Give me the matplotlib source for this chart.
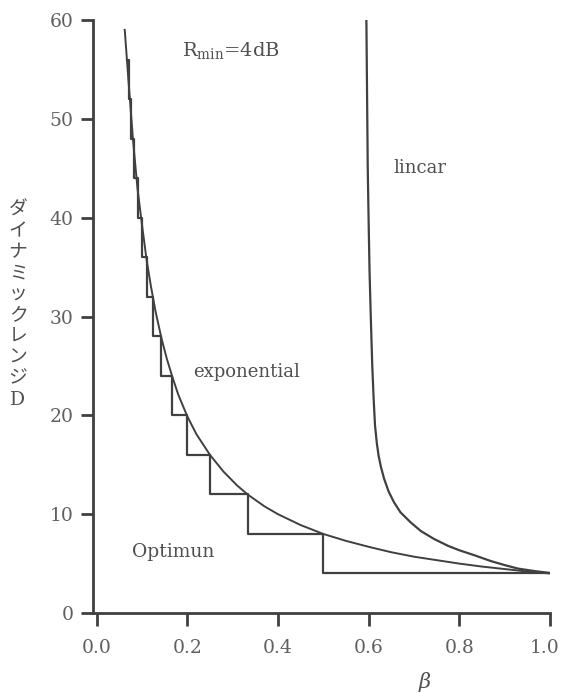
import matplotlib.pyplot as plt
import matplotlib.transforms as mtransforms

# exponential curve
exp_beta = [0.062, 0.07, 0.08, 0.09, 0.1, 0.11, 0.12, 0.13, 0.143, 0.155, 0.167,
            0.18, 0.2, 0.22, 0.25, 0.28, 0.31, 0.333, 0.37, 0.4, 0.45, 0.5,
            0.55, 0.6, 0.65, 0.7, 0.75, 0.8, 0.85, 0.9, 0.95, 1.0]
exp_D = [59, 54, 48, 43, 39.3, 35.8, 33, 30.5, 27.8, 25.7, 23.9,
         22.1, 19.9, 18.1, 16, 14.3, 12.9, 12, 10.8, 10, 8.9, 8,
         7.3, 6.7, 6.15, 5.7, 5.35, 5.0, 4.7, 4.45, 4.2, 4.0]

# linear curve
lin_beta = [0.595, 0.596, 0.597, 0.598, 0.600, 0.602, 0.605, 0.608, 0.611, 0.614,
            0.618, 0.622, 0.627, 0.634, 0.644, 0.656, 0.670, 0.692, 0.715, 0.744,
            0.775, 0.80, 0.833, 0.87, 0.9, 0.929, 0.965, 1.0]
lin_D = [60, 55, 50, 45, 39.5, 34.5, 29.5, 25, 21.7, 19,
         17.2, 15.9, 14.8, 13.6, 12.3, 11.2, 10.2, 9.2, 8.3, 7.5,
         6.8, 6.35, 5.85, 5.25, 4.85, 4.5, 4.25, 4.05]

# optimum staircase
opt_beta = [1.0, 0.5, 0.333, 0.25, 0.2, 0.167, 0.143, 0.125, 0.111, 0.1,
            0.0909, 0.0833, 0.0769, 0.0714, 0.0667]
opt_D = [4, 8, 12, 16, 20, 24, 28, 32, 36, 40, 44, 48, 52, 56, 56]

x_ticks = [0.0, 0.2, 0.4, 0.6, 0.8, 1.0]
y_ticks = [0, 10, 20, 30, 40, 50, 60]

ink = '#404040'
txt = '#505050'
serif = 'DejaVu Serif'

fig = plt.figure(figsize=(5.63, 6.93), dpi=100)
ax = fig.add_axes([0.1652, 0.1154, 0.8117, 0.8557])

ax.plot(exp_beta, exp_D, color=ink, lw=1.4)
ax.plot(lin_beta, lin_D, color=ink, lw=1.6)
ax.step(opt_beta, opt_D, where='post', color=ink, lw=1.6)

ax.set_xlim(-0.008, 1.0)
ax.set_ylim(0, 60)
ax.set_xticks(x_ticks)
ax.set_xticklabels(['%.1f' % t for t in x_ticks])
ax.set_yticks(y_ticks)

for s in ['top', 'right']:
    ax.spines[s].set_visible(False)
for s in ['left', 'bottom']:
    ax.spines[s].set_linewidth(2)
    ax.spines[s].set_color(ink)

ax.tick_params(axis='both', length=9, width=2, color=ink, labelcolor='#606060',
               labelsize=13.5, pad=5)
for lab in ax.get_xticklabels() + ax.get_yticklabels():
    lab.set_family(serif)
ax.tick_params(axis='x', pad=10)

# nudge the last x label so it stays inside the figure
last = ax.get_xticklabels()[-1]
last.set_transform(last.get_transform() +
                   mtransforms.ScaledTranslation(-5 / 100, 0, fig.dpi_scale_trans))

ax.text(0.188, 56.8, r'R$_{\mathregular{min}}$=4dB', fontsize=14, family=serif,
        color=txt, va='center')
ax.text(0.655, 45, 'lincar', fontsize=13, family=serif, color=txt, va='center')
ax.text(0.212, 24.4, 'exponential', fontsize=13, family=serif, color=txt, va='center')
ax.text(0.077, 6.2, 'Optimun', fontsize=13.5, family=serif, color=txt, va='center')

ylab = '\n'.join('ダイナミックレンジ') + '\nD'
fig.text(0.032, 0.56, ylab, fontsize=13.5, family=['DejaVu Serif', 'Noto Sans CJK JP'],
         color=txt, ha='center', va='center', linespacing=1.22)
fig.text(0.755, 0.002, 'β', fontsize=15, family=serif, style='italic', color=txt,
         ha='center', va='bottom')

fig.savefig('out.png', dpi=100)
